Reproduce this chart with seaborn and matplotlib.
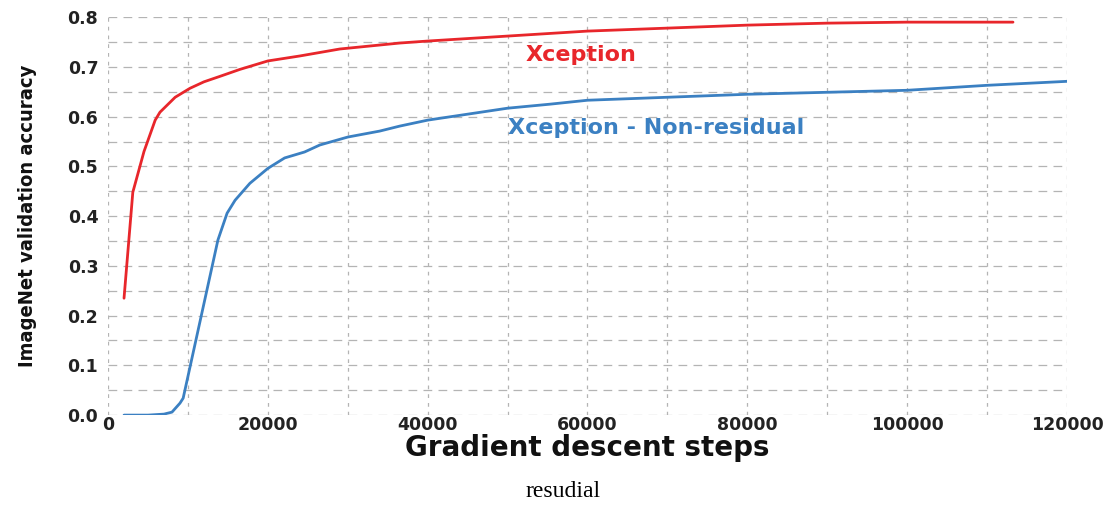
import numpy as np
import pandas as pd
import matplotlib
matplotlib.use("Agg")
import matplotlib.pyplot as plt
from matplotlib.ticker import MultipleLocator, FormatStrFormatter
import seaborn as sns

# Validation accuracy during training, residual vs. non-residual Xception
xception_steps = [2000, 3100, 4500, 5900, 6500, 8400, 10250, 12000, 14000, 16500,
                  20000, 24000, 29000, 36500, 40000, 50000, 60000, 70000, 80000,
                  90000, 100000, 113250]
xception_acc = [0.235, 0.448, 0.530, 0.593, 0.609, 0.639, 0.657, 0.670, 0.681, 0.695,
                0.712, 0.722, 0.736, 0.748, 0.752, 0.762, 0.772, 0.778, 0.784,
                0.788, 0.790, 0.790]

nonres_steps = [2000, 5000, 7000, 8000, 9000, 9400, 13750, 14900, 15900, 17750,
                20000, 22100, 24600, 26500, 30000, 34000, 36500, 40000, 50000,
                55250, 60000, 70000, 80000, 90000, 100000, 110000, 120000]
nonres_acc = [0.000, 0.000, 0.002, 0.006, 0.024, 0.034, 0.352, 0.406, 0.432, 0.466,
              0.496, 0.517, 0.529, 0.543, 0.559, 0.571, 0.581, 0.593, 0.617,
              0.625, 0.633, 0.639, 0.645, 0.649, 0.653, 0.663, 0.671]

model_names = ["Xception", "Xception - Non-residual"]
model_colors = ["#e8262b", "#3b80c2"]

df = pd.concat([
    pd.DataFrame({"step": xception_steps, "acc": xception_acc, "model": model_names[0]}),
    pd.DataFrame({"step": nonres_steps, "acc": nonres_acc, "model": model_names[1]}),
], ignore_index=True)

sns.set_theme(style="white")
plt.rcParams["font.family"] = ["DejaVu Sans"]

fig = plt.figure(figsize=(11.15, 5.05), dpi=100)
ax = fig.add_axes([0.0969, 0.178, 0.860, 0.788])

sns.lineplot(data=df, x="step", y="acc", hue="model",
             palette=dict(zip(model_names, model_colors)),
             linewidth=2.0, legend=False, ax=ax, estimator=None)

ax.set_xlim(0, 120000)
ax.set_ylim(0.0, 0.8)
ax.xaxis.set_major_locator(MultipleLocator(20000))
ax.xaxis.set_minor_locator(MultipleLocator(10000))
ax.yaxis.set_major_locator(MultipleLocator(0.1))
ax.yaxis.set_minor_locator(MultipleLocator(0.05))
ax.yaxis.set_major_formatter(FormatStrFormatter("%.1f"))

for s in ax.spines.values():
    s.set_visible(False)

ax.xaxis.grid(True, which="both", color="#b4b4b4", linestyle=(0, (3, 4)), linewidth=0.9)
ax.yaxis.grid(True, which="both", color="#b4b4b4", linestyle=(0, (7, 5)), linewidth=0.9)
ax.set_axisbelow(True)

ax.tick_params(axis="both", which="both", length=0, labelsize=12.5, labelcolor="#222222")
ax.tick_params(axis="x", pad=1)
ax.tick_params(axis="y", pad=7)
for lab in ax.get_xticklabels() + ax.get_yticklabels():
    lab.set_fontweight("bold")

ax.set_xlabel("Gradient descent steps", fontsize=20, fontweight="bold", labelpad=0,
              color="#111111")
ax.set_ylabel("ImageNet validation accuracy", fontsize=14.5, fontweight="bold",
              fontstretch="condensed", labelpad=22, color="#111111")

ax.text(59250, 0.724, "Xception", color=model_colors[0], fontsize=16,
        fontweight="bold", ha="center", va="center")
ax.text(50000, 0.577, "Xception - Non-residual", color=model_colors[1], fontsize=16,
        fontweight="bold", ha="left", va="center")

fig.text(0.505, 0.005, "resudial", fontsize=17, family="Liberation Serif",
         ha="center", va="bottom", color="black")

fig.savefig("out.png", dpi=100, facecolor="white")
